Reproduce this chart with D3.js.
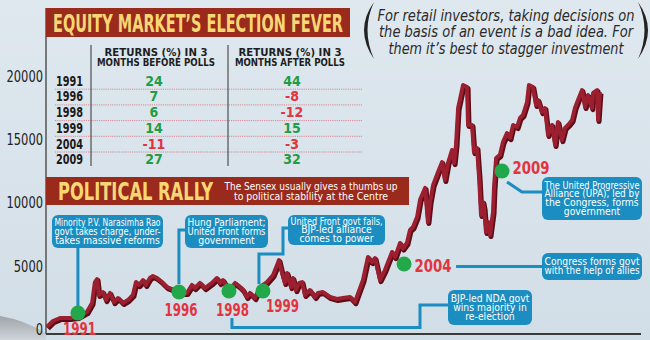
<!DOCTYPE html>
<html><head><meta charset="utf-8">
<script src="https://cdn.jsdelivr.net/npm/d3@7"></script>
<style>
html,body{margin:0;padding:0;background:#d8e3eb;overflow:hidden;}
svg{display:block;}
</style></head><body>
<svg id="c" width="650" height="340"></svg>
<script>
// ---------------- DATA ----------------
const pollYears = ["1991","1996","1998","1999","2004","2009"];
const returnsBefore = [24, 7, 6, 14, -11, 27];
const returnsAfter = [44, -8, -12, 15, -3, 32];
const headerBefore = ["RETURNS (%) IN 3", "MONTHS BEFORE POLLS"];
const headerAfter = ["RETURNS (%) IN 3", "MONTHS AFTER POLLS"];
const yTicks = [0, 5000, 10000, 15000, 20000];

// Sensex path (time in fractional years, index level)
const sensexT = [1990.00,1990.25,1990.55,1990.97,1991.31,1991.69,1991.91,1992.03,1992.12,1992.20,1992.37,1992.50,1992.67,1992.84,1993.01,1993.22,1993.43,1993.64,1993.77,1993.90,1994.07,1994.19,1994.36,1994.49,1994.66,1994.87,1995.08,1995.30,1995.59,1995.93,1996.14,1996.27,1996.48,1996.69,1996.99,1997.20,1997.33,1997.46,1997.71,1997.97,1998.18,1998.31,1998.47,1998.60,1998.81,1999.03,1999.32,1999.58,1999.75,1999.83,1999.96,2000.08,2000.17,2000.34,2000.42,2000.55,2000.68,2000.81,2000.93,2001.14,2001.36,2001.48,2001.69,2001.99,2002.29,2002.54,2002.84,2003.05,2003.39,2003.60,2003.77,2003.90,2004.11,2004.32,2004.62,2004.75,2004.96,2005.08,2005.25,2005.38,2005.51,2005.68,2005.81,2006.02,2006.14,2006.23,2006.36,2006.57,2006.74,2006.86,2006.99,2007.16,2007.25,2007.33,2007.42,2007.54,2007.63,2007.80,2007.84,2008.01,2008.09,2008.22,2008.31,2008.39,2008.47,2008.52,2008.60,2008.69,2008.77,2008.90,2008.94,2009.03,2009.19,2009.32,2009.49,2009.62,2009.75,2009.92,2010.04,2010.17,2010.34,2010.42,2010.59,2010.72,2010.81,2010.97,2011.10,2011.23,2011.40,2011.53,2011.65,2011.82,2011.95,2012.08,2012.25,2012.37,2012.50,2012.67,2012.80,2012.92,2013.09,2013.14,2013.31,2013.35,2013.43];
const sensexV = [200,670,910,910,990,1380,2100,3750,3990,2730,2960,2330,2890,2170,2490,2100,2330,2730,3750,3520,3910,3520,4070,4230,4070,3750,3360,3200,2890,2890,3520,3280,3680,3280,3680,4070,3680,3910,3120,3680,3360,3120,2570,2890,2490,3360,3750,4310,5100,5490,4470,3680,4470,3360,4070,3120,3680,3750,2730,3120,2570,2890,2960,2570,2410,2490,2570,2170,3910,5730,5340,5650,3910,4700,6130,5730,6840,6400,6840,7870,8100,8890,10280,11190,8500,10080,11420,12450,13240,11820,13160,14190,13160,14590,17510,18540,19330,19170,16170,16170,14030,14350,11980,9050,10080,9610,7710,8500,7470,9290,11190,13560,13800,14820,15530,15140,16170,16010,16720,16960,17980,19330,19170,17750,18140,17190,17510,15380,16170,14590,16400,14980,15930,16170,16560,17510,18140,18930,17590,18540,17510,18700,18930,16560,18770];

// Election markers
const markerT = [1991.31, 1995.59, 1997.71, 1999.15, 2005.13, 2009.28];
const markerV = [1300, 2960, 3040, 3040, 5180, 12530];
const markerLabels = ["1991","1996","1998","1999","2004","2009"];

const callouts = [
  ["Minority P.V. Narasimha Rao","govt takes charge, under-","takes massive reforms"],
  ["Hung Parliament;","United Front forms","government"],
  ["United Front govt fails,","BJP-led alliance","comes to power"],
  ["BJP-led NDA govt","wins majority in","re-election"],
  ["Congress forms govt","with the help of allies"],
  ["The United Progressive","Alliance (UPA), led by","the Congress, forms","government"]
];
const titleText = "EQUITY MARKET\u2019S ELECTION FEVER";
const rallyText = "POLITICAL RALLY";
const rallySub = ["The Sensex usually gives a thumbs up","to political stability at the Centre"];
const quoteLines = ["For retail investors, taking decisions on","the basis of an event is a bad idea. For","them it\u2019s best to stagger investment"];

// ---------------- DRAW ----------------
const CF = "'Liberation Sans Narrow','DejaVu Sans Condensed','Roboto Condensed','Arial Narrow',sans-serif";
const svg = d3.select('#c');
const defs = svg.append('defs');
const bg = defs.append('linearGradient').attr('id','bg').attr('x1',0).attr('y1',0).attr('x2',0).attr('y2',1);
bg.append('stop').attr('offset','0%').attr('stop-color','#dfe8ef');
bg.append('stop').attr('offset','100%').attr('stop-color','#d2dee7');
const sw = defs.append('linearGradient').attr('id','sw').attr('x1',0).attr('y1',0).attr('x2',0).attr('y2',1);
sw.append('stop').attr('offset','0%').attr('stop-color','#9ea3a8');
sw.append('stop').attr('offset','100%').attr('stop-color','#cfd5da');

svg.append('rect').attr('width',650).attr('height',340).attr('fill','url(#bg)');
svg.append('path').attr('d','M0,316 Q24,320 46,333 L46,340 L0,340 Z').attr('fill','url(#sw)');

function fitMax(sel, w){
  sel.each(function(){
    const L = this.getComputedTextLength();
    if (L > w) d3.select(this).attr('textLength', w).attr('lengthAdjust','spacingAndGlyphs');
  });
}
function fitExact(sel, w){
  sel.attr('textLength', w).attr('lengthAdjust','spacingAndGlyphs');
}

const x = d3.scaleLinear().domain([1990, 2015]).range([47, 637]);
const y = d3.scaleLinear().domain([0, 20000]).range([329.5, 76.5]);

// y axis labels
const yAx = svg.append('g').attr('transform','translate(46,0)')
  .call(d3.axisLeft(y).tickValues(yTicks).tickSize(0).tickPadding(3).tickFormat(d3.format('d')));
yAx.select('.domain').remove();
yAx.selectAll('text').attr('font-family',CF).attr('font-size',15).attr('fill','#222');
yAx.selectAll('text').each(function(){ fitMax(d3.select(this), (this.textContent.length)*7.3); });

// left axis line
svg.append('line').attr('x1',46).attr('x2',46).attr('y1',8).attr('y2',334).attr('stroke','#555').attr('stroke-width',1.5);

// bottom axis
const xAx = svg.append('g').attr('transform','translate(0,334)')
  .call(d3.axisBottom(x).tickValues([]).tickSizeOuter(0));
xAx.select('.domain').attr('d','M46,0H641').attr('stroke','#3a3a3a').attr('stroke-width',2);

// ---- top banner + table ----
svg.append('rect').attr('x',46).attr('y',8).attr('width',304).attr('height',29).attr('fill','#9a2b1c');
svg.append('text').attr('x',53).attr('y',32).text(titleText)
  .attr('font-family',CF).attr('font-weight',700).attr('font-size',24).attr('fill','#f7d774')
  .call(fitExact, 290);

const rowY = d => 85.7 + d*15.7;
// dotted separators
svg.append('g').selectAll('line').data(d3.range(5)).join('line')
  .attr('x1',55).attr('x2',363).attr('y1',d=>rowY(d)+3.5).attr('y2',d=>rowY(d)+3.5)
  .attr('stroke','#d68892').attr('stroke-width',1).attr('stroke-dasharray','1.2,1');
// vertical separators
[91, 228].forEach(vx=>svg.append('line').attr('x1',vx).attr('x2',vx).attr('y1',45).attr('y2',166).attr('stroke','#333').attr('stroke-width',1));
// headers
[[headerBefore,156,[103,118]],[headerAfter,290,[103,110]]].forEach(([h,cx,ws])=>{
  h.forEach((s,i)=>{
    svg.append('text').attr('x',cx).attr('y',56+i*10.2).attr('text-anchor','middle').text(s)
      .attr('font-family',CF).attr('font-size',10.5).attr('font-weight',700).attr('fill','#1e1e1e')
      .call(fitExact, ws[i]);
  });
});
// rows
const rows = svg.append('g');
pollYears.forEach((yr,i)=>{
  rows.append('text').attr('x',56).attr('y',rowY(i)).text(yr)
    .attr('font-family',CF).attr('font-weight',700).attr('font-size',13.5).attr('fill','#1a1a1a').call(fitExact,27);
  rows.append('text').attr('x',154).attr('y',rowY(i)).attr('text-anchor','middle').text(returnsBefore[i])
    .attr('font-family',CF).attr('font-weight',700).attr('font-size',14).attr('fill',returnsBefore[i]>=0?'#1f9c44':'#e0343e');
  rows.append('text').attr('x',292).attr('y',rowY(i)).attr('text-anchor','middle').text(returnsAfter[i])
    .attr('font-family',CF).attr('font-weight',700).attr('font-size',14).attr('fill',returnsAfter[i]>=0?'#1f9c44':'#e0343e');
});

// ---- quote ----
svg.append('path').attr('d','M374,2 Q354,30 374,59 Q361,30 374,2 Z').attr('fill','#222');
svg.append('path').attr('d','M638,2 Q658,30 638,59 Q651,30 638,2 Z').attr('fill','#222');
const qW = [257, 254, 235];
quoteLines.forEach((s,i)=>{
  svg.append('text').attr('x',506).attr('y',21+i*16.3).attr('text-anchor','middle').text(s)
    .attr('font-family',CF).attr('font-style','italic').attr('font-size',15.5).attr('fill','#2a2a2a')
    .call(fitExact, qW[i]);
});

// ---- rally banner ----
svg.append('rect').attr('x',46).attr('y',177).attr('width',363).attr('height',28).attr('fill','#9a2b1c');
svg.append('text').attr('x',58).attr('y',200).text(rallyText)
  .attr('font-family',CF).attr('font-weight',700).attr('font-size',24).attr('fill','#f7d774')
  .call(fitExact, 155);
const subW = [173, 154];
rallySub.forEach((s,i)=>{
  svg.append('text').attr('x',311).attr('y',189.5+i*10.6).attr('text-anchor','middle').text(s)
    .attr('font-family',CF).attr('font-size',11).attr('fill','#ffffff').call(fitExact, subW[i]);
});

// ---- connectors ----
const mx = i => x(markerT[i]), my = i => y(markerV[i]);
const BLUE = '#1b8dc1';
const conn = svg.append('g').attr('fill','none').attr('stroke',BLUE).attr('stroke-width',3);
conn.append('path').attr('d',`M${mx(0)},246 V${my(0)-6}`);
conn.append('path').attr('d',`M187,230 H${mx(1)} V${my(1)-8}`);
conn.append('path').attr('d',`M290,228 H283 V254 H${mx(3)-4} V${my(3)-7}`);
conn.append('path').attr('d',`M${mx(2)+3},318 V327.5 H420 V305 H450`);
conn.append('path').attr('d',`M${mx(4)+52},266.5 H544`);
conn.append('path').attr('d',`M${mx(5)+5},${my(5)+11} L522,192 H544`);

// ---- Sensex line ----
const series = sensexT.map((t,i)=>({t, v: sensexV[i]}));
const line = d3.line().x(d=>x(d.t)).y(d=>y(d.v));
svg.append('path').datum(series).attr('d',line).attr('fill','none')
  .attr('stroke','#5c0d18').attr('stroke-width',5).attr('stroke-linejoin','round')
  .attr('transform','translate(1,1.6)');
svg.append('path').datum(series).attr('d',line).attr('fill','none')
  .attr('stroke','#9c1f30').attr('stroke-width',4).attr('stroke-linejoin','round');

// ---- markers ----
svg.append('g').selectAll('circle').data(markerT).join('circle')
  .attr('cx',(d,i)=>mx(i)).attr('cy',(d,i)=>my(i)).attr('r',7.5).attr('fill','#22a84a');
const lblOff = [[1.5,22],[2,24],[3.5,25],[19.5,21],[29,8],[29,3]];
markerLabels.forEach((s,i)=>{
  svg.append('text').attr('x',mx(i)+lblOff[i][0]).attr('y',my(i)+lblOff[i][1]).attr('text-anchor','middle').text(s)
    .attr('font-family',CF).attr('font-weight',700).attr('font-size',17).attr('fill','#e2343e')
    .call(fitExact, i>=4 ? 37 : 33);
});

// ---- callout boxes ----
const boxes = [
  {x:52,y:215,w:111,h:33},
  {x:185,y:215,w:83,h:33},
  {x:288,y:215,w:97,h:30},
  {x:448,y:290,w:84,h:35},
  {x:542,y:253,w:100,h:27},
  {x:542,y:177,w:100,h:43}
];
callouts.forEach((lines,i)=>{
  const b = boxes[i];
  svg.append('rect').attr('x',b.x).attr('y',b.y).attr('width',b.w).attr('height',b.h).attr('rx',6).attr('fill',BLUE);
  const lh = 8.9, cy = b.y + b.h/2, n = lines.length;
  lines.forEach((s,j)=>{
    svg.append('text').attr('x',b.x+b.w/2).attr('y',cy + (j-(n-1)/2)*lh + 3.4).attr('text-anchor','middle').text(s)
      .attr('font-family',CF).attr('font-size',10.3).attr('fill','#fff').call(fitMax, b.w-5);
  });
});
</script></body></html>
